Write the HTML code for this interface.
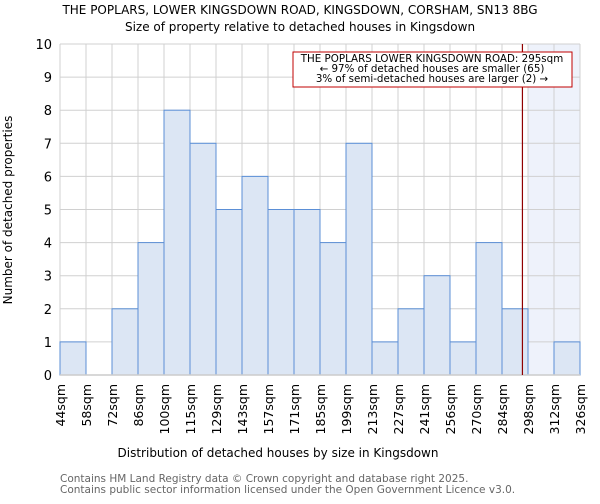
<!DOCTYPE html>
<html><head><meta charset="utf-8"><style>
body{margin:0;background:#fff;font-family:"DejaVu Sans","Liberation Sans",sans-serif;}
</style></head><body>
<svg id="c" width="600" height="500" xmlns="http://www.w3.org/2000/svg" font-family="DejaVu Sans, Liberation Sans, sans-serif">
<text x="300" y="14" text-anchor="middle" font-size="12" fill="#000">THE POPLARS, LOWER KINGSDOWN ROAD, KINGSDOWN, CORSHAM, SN13 8BG</text>
<text x="300" y="31" text-anchor="middle" font-size="12" fill="#000">Size of property relative to detached houses in Kingsdown</text>
<g id="plot"></g>
<text x="278" y="457" text-anchor="middle" font-size="12">Distribution of detached houses by size in Kingsdown</text>
<text transform="translate(12,210) rotate(-90)" text-anchor="middle" font-size="12">Number of detached properties</text>
<text x="60" y="482" font-size="10.5" fill="#666">Contains HM Land Registry data © Crown copyright and database right 2025.</text>
<text x="60" y="493" font-size="10.5" fill="#666">Contains public sector information licensed under the Open Government Licence v3.0.</text>
</svg>
<script>
const edges=[44,58,72,86,100,115,129,143,157,171,185,199,213,227,241,256,270,284,298,312,326];
const counts=[1,0,2,4,8,7,5,6,5,5,4,7,1,2,3,1,4,2,0,1];
const yTicks=[0,1,2,3,4,5,6,7,8,9,10];
const subjectSize=295;
const shadeStart=298;
const NS="http://www.w3.org/2000/svg";
const L=60,R=580,T=44,B=375;
const xs=i=>L+i*(R-L)/(edges.length-1);
const xv=v=>{for(let i=0;i<edges.length-1;i++){if(v<=edges[i+1])return xs(i)+(v-edges[i])/(edges[i+1]-edges[i])*(xs(i+1)-xs(i));}return R;};
const ys=v=>B-v*(B-T)/10;
const g=document.getElementById('plot');
function mk(t,a){const e=document.createElementNS(NS,t);for(const k in a)e.setAttribute(k,a[k]);g.appendChild(e);return e;}
let e=mk('rect',{x:xv(shadeStart),y:T,width:R-xv(shadeStart),height:B-T,fill:'#eef2fb'});


yTicks.forEach(v=>{
 const l=mk('line',{x1:L,x2:R,y1:ys(v),y2:ys(v),stroke:'#d0d0d0','stroke-width':1});
 
 
 const t=mk('text',{x:L-8,y:ys(v)+5,'text-anchor':'end','font-size':13});
 t.textContent=v;
 
 
});
edges.forEach((v,i)=>{
 const l=mk('line',{x1:xs(i),x2:xs(i),y1:T,y2:B,stroke:'#d0d0d0','stroke-width':1});
 
 
 const t=mk('text',{transform:`translate(${xs(i)+5},${B+9}) rotate(-90)`,'text-anchor':'end','font-size':12.5});
 t.textContent=v+'sqm';
 
 
});
counts.forEach((c,i)=>{
 if(c<=0)return;
 const r=mk('rect',{x:xs(i),y:ys(c),width:xs(i+1)-xs(i),height:B-ys(c),fill:'#dce6f4',stroke:'#5b8fd6','stroke-width':1});
 
 
});
e=mk('line',{x1:L,x2:R,y1:B,y2:B,stroke:'#ccc','stroke-width':1.5});


e=mk('line',{x1:xv(subjectSize),x2:xv(subjectSize),y1:T,y2:B,stroke:'#900000','stroke-width':1.2});


e=mk('rect',{x:293,y:52,width:279,height:35,fill:'#fff',stroke:'#c00000','stroke-width':1});


['THE POPLARS LOWER KINGSDOWN ROAD: 295sqm','← 97% of detached houses are smaller (65)','3% of semi-detached houses are larger (2) →'].forEach((s,i)=>{
 const t=mk('text',{x:432,y:62+i*10,'text-anchor':'middle','font-size':10.3});
 t.textContent=s;
 
 
});
</script>
</body></html>
